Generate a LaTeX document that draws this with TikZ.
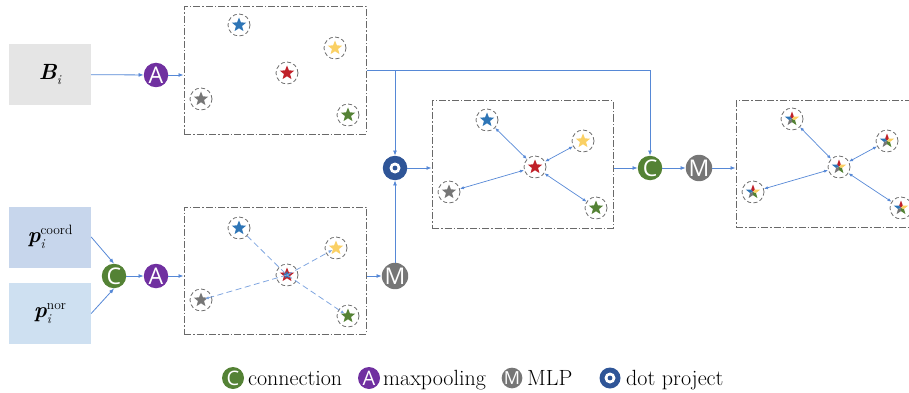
\RequirePackage{fix-cm}
\documentclass[tikz,border=0pt]{standalone}
\usepackage{fontspec}
\usetikzlibrary{arrows.meta,shapes.geometric,calc}
\newfontfamily\iconfont{Open Sans}
\definecolor{cconn}{RGB}{84,130,53}
\definecolor{cmaxp}{RGB}{112,48,160}
\definecolor{cmlp}{RGB}{118,118,118}
\definecolor{cdotp}{RGB}{47,85,151}
\definecolor{clink}{RGB}{86,136,214}
\definecolor{sblue}{RGB}{46,117,182}
\definecolor{syellow}{RGB}{250,208,100}
\definecolor{sred}{RGB}{192,32,40}
\definecolor{sgray}{RGB}{118,118,118}
\definecolor{sgreen}{RGB}{84,130,53}
\definecolor{bgray}{RGB}{229,229,229}
\definecolor{pcoord}{RGB}{199,214,236}
\definecolor{pnor}{RGB}{206,224,241}
\definecolor{boxline}{RGB}{105,105,105}
\definecolor{ringc}{RGB}{110,110,110}
\newcommand\sgrp[4]{\node[ring] (#1) at (#2,#3) {};
  \node[sstar, fill=#4] at (#1.center) {};}
\newcommand\mgrp[3]{\node[ring] (#1) at (#2,#3) {};
  \foreach \a/\c in {90/sred,162/sblue,234/sgray,306/sgreen,18/syellow}{
    \fill[fill=\c] (#1.center) -- ($(#1.center)+(\a-36:3.1pt)$) -- ($(#1.center)+(\a:7.5pt)$) -- ($(#1.center)+(\a+36:3.1pt)$) -- cycle;}}
\newcommand\bi[1]{{\bfseries\itshape #1}}
\newcommand\smallfnt{\fontsize{13.5}{13.5}\selectfont}
\begin{document}
\begin{tikzpicture}[x=1pt,y=-1pt,
  op/.style={circle, minimum size=24.5pt, inner sep=0pt, text=white, font=\iconfont\fontsize{23}{23}\selectfont},
  opC/.style={op, fill=cconn},
  opA/.style={op, fill=cmaxp},
  opM/.style={op, fill=cmlp},
  opD/.style={op, fill=cdotp, path picture={
      \fill[white] (path picture bounding box.center) circle (5.5pt);
      \fill[cdotp] (path picture bounding box.center) circle (2.4pt);}},
  small/.style={minimum size=22pt, font=\iconfont\fontsize{20}{20}\selectfont},
  inbox/.style={rectangle, minimum width=82pt, minimum height=61pt, inner sep=0pt, font=\fontsize{22}{24}\selectfont},
  grp/.style={rectangle, draw=boxline, line width=1pt, dash pattern=on 7pt off 2pt on 1.5pt off 2pt, minimum width=182pt, minimum height=127pt, inner sep=0pt},
  ring/.style={circle, draw=ringc, dash pattern=on 4pt off 2.5pt, line width=0.8pt, minimum size=22pt, inner sep=0pt},
  sstar/.style={star, star points=5, star point ratio=2.3, minimum size=15pt, inner sep=0pt, draw=none},
  flow/.style={draw=clink, line width=0.8pt, -{Latex[length=5pt,width=4pt]}},
  dlink/.style={draw=clink!75, line width=0.8pt, dash pattern=on 6pt off 3.5pt},
  dlinkA/.style={dlink, -{Latex[length=4pt,width=3.2pt]}, shorten >=4pt},
  dbl/.style={draw=clink, line width=0.7pt, {Latex[length=4pt,width=3.2pt]}-{Latex[length=4pt,width=3.2pt]}},
  lbl/.style={anchor=base west, inner sep=0pt, font=\fontsize{22}{24}\selectfont}
]
\clip (0,0) rectangle (909,393);
% input boxes
\node[inbox, fill=bgray] (B) at (50,74.5) {\bi{B}\raisebox{-4.5pt}{\smallfnt\itshape i}};
\node[inbox, fill=pcoord] (pc) at (50,237) {\bi{p}\raisebox{-6pt}{\makebox[0pt][l]{\smallfnt\itshape i}}\raisebox{7.5pt}{\smallfnt coord}};
\node[inbox, fill=pnor] (pn) at (50,313.5) {\bi{p}\raisebox{-6pt}{\makebox[0pt][l]{\smallfnt\itshape i}}\raisebox{7.5pt}{\smallfnt nor}};
% groups
\node[grp] (g1) at (275,70.5) {};
\node[grp] (g2) at (275,270.5) {};
\node[grp, minimum width=181pt] (g3) at (522.5,164.5) {};
\node[grp, minimum width=181pt, minimum height=126pt] (g4) at (826.5,164) {};
% operators
\node[opA] (A0) at (156,75) {A};
\node[opC] (C1) at (114,276) {C};
\node[opA] (A1) at (156,276) {A};
\node[opM] (M1) at (395,276) {M};
\node[opD] (dot) at (395,168) {};
\node[opC] (C2) at (650,168) {C};
\node[opM] (M2) at (699,168) {M};
% connectors
\draw[flow] (B) -- (A0);
\draw[flow] (A0) -- (A0 -| g1.west);
\draw[flow] (g1.east) -| (C2);
\coordinate (j) at (dot |- g1.east);
\draw[flow] (j) -- (dot);
\draw[flow] (pc.east) -- (C1.north);
\draw[flow] (pn.east) -- (C1.south);
\draw[flow] (C1) -- (A1);
\draw[flow] (A1) -- (A1 -| g2.west);
\draw[flow] (M1 -| g2.east) -- (M1);
\draw[flow] (M1) -- (dot);
\draw[flow] (dot) -- (dot -| g3.west);
\draw[flow] (C2 -| g3.east) -- (C2);
\draw[flow] (C2) -- (M2);
\draw[flow] (M2) -- (M2 -| g4.west);
% group 1 stars
\sgrp{b1}{239}{25}{sblue}
\sgrp{y1}{335}{48}{syellow}
\sgrp{r1}{287}{73}{sred}
\sgrp{a1}{201}{99}{sgray}
\sgrp{e1}{348}{115}{sgreen}
% group 2 stars
\sgrp{b2}{239}{228}{sblue}
\sgrp{y2}{336}{248}{syellow}
\sgrp{r2}{287}{275}{sred}
\node[sstar, fill=sblue, minimum size=8pt] at (r2.center) {};
\sgrp{a2}{201}{300}{sgray}
\sgrp{e2}{348}{316}{sgreen}
\draw[dlink] (b2) -- (r2.center);
\draw[dlinkA] (r2.center) -- (y2.center);
\draw[dlinkA] (r2.center) -- (a2.center);
\draw[dlinkA] (r2.center) -- (e2.center);
% group 3 stars
\sgrp{b3}{487}{120}{sblue}
\sgrp{y3}{583}{141}{syellow}
\sgrp{r3}{535}{167}{sred}
\sgrp{a3}{449}{192}{sgray}
\sgrp{e3}{596}{208}{sgreen}
\draw[dbl] (r3) -- (b3);
\draw[dbl] (r3) -- (y3);
\draw[dbl] (r3) -- (a3);
\draw[dbl] (r3) -- (e3);
% group 4 stars
\mgrp{b4}{792}{119}
\mgrp{y4}{887}{141}
\mgrp{r4}{839}{167}
\mgrp{a4}{753}{192}
\mgrp{e4}{901}{208}
\draw[dbl] (r4) -- (b4);
\draw[dbl] (r4) -- (y4);
\draw[dbl] (r4) -- (a4);
\draw[dbl] (r4) -- (e4);
% legend
\node[opC, small] (lC) at (233,378) {C};
\node[lbl] (tC) at (248,385) {connection};
\node[opA, small] (lA) at (369,378) {A};
\node[lbl] (tA) at (383,385) {maxpooling};
\node[opM, small, minimum size=20pt, font=\iconfont\fontsize{18}{18}\selectfont] (lM) at (512,378) {M};
\node[lbl] (tM) at (527,385) {MLP};
\node[opD, small, minimum size=21pt] (lD) at (610,378) {};
\node[lbl] (tD) at (626,385) {dot project};
\end{tikzpicture}
\end{document}
